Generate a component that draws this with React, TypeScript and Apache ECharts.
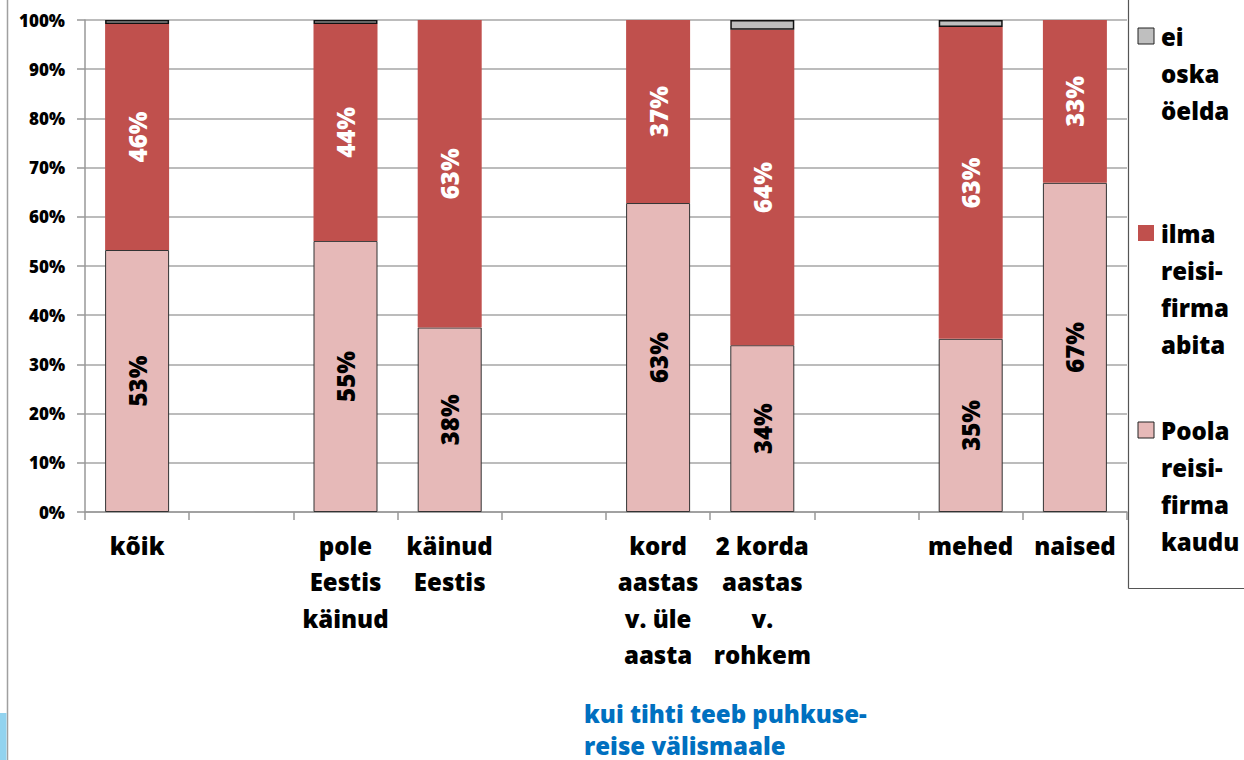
import React, { useEffect, useRef } from "react";
import * as echarts from "echarts";

const categories = [
  "kõik",
  " ",
  "pole\nEestis\nkäinud",
  "käinud\nEestis",
  "  ",
  "kord\naastas\nv. üle\naasta",
  "2 korda\naastas\nv.\nrohkem",
  "   ",
  "mehed",
  "naised",
];
const seriesNames = ["Poola reisi-firma kaudu", "ilma reisi-firma abita", "ei oska öelda"];
const legendLines = [
  ["Poola", "reisi-", "firma", "kaudu"],
  ["ilma", "reisi-", "firma", "abita"],
  ["ei", "oska", "öelda"],
];
const poolaValues = [53.25, null, 55.1, 37.5, null, 62.8, 33.9, null, 35.2, 66.9];
const ilmaValues = [45.95, null, 44.1, 62.5, null, 37.2, 64.1, null, 63.4, 33.1];
const eiValues = [0.8, null, 0.8, 0, null, 0, 2.0, null, 1.4, 0];
const yTicks = [0, 10, 20, 30, 40, 50, 60, 70, 80, 90, 100];
const axisTitle = "kui tihti teeb puhkuse-\nreise välismaale";

const colors = ["#E6B9B8", "#C0504D", "#BFBFBF"];
const FONT = "'Open Sans', 'Noto Sans', sans-serif";
const W = 800;

export default function App() {
  const ref = useRef<HTMLDivElement>(null);
  useEffect(() => {
    if (!ref.current) return;
    const chart = echarts.init(ref.current, undefined, { renderer: "svg" });
    const labelFmt = (p: any) => (p.value == null ? "" : Math.round(p.value) + "%");
    const legendTops = [422, 225, 28];
    const legendGraphics: any[] = [];
    [2, 1, 0].forEach((i) => {
      const top = legendTops[i];
      legendGraphics.push({
        type: "rect",
        shape: { x: 1138, y: top, width: 16, height: 16 },
        style: {
          fill: colors[i],
          stroke: i === 1 ? null : "#222",
          lineWidth: 1,
        },
      });
      legendGraphics.push({
        type: "text",
        x: 1161,
        y: top - 10,
        style: {
          text: legendLines[i].join("\n"),
          font: `${W} 24px ${FONT}`,
          lineHeight: 37,
          fill: "#000",
        },
      });
    });
    chart.setOption({
      animation: false,
      textStyle: { fontFamily: FONT },
      grid: { left: 85, right: 117, top: 20, bottom: 248, containLabel: false },
      xAxis: {
        type: "category",
        data: categories,
        axisLine: { lineStyle: { color: "#999", width: 1.5 } },
        axisTick: { show: true, length: 8, lineStyle: { color: "#999", width: 1.5 } },
        axisLabel: {
          interval: 0,
          color: "#000",
          fontWeight: W,
          fontSize: 24,
          fontFamily: FONT,
          lineHeight: 36.5,
          margin: 15,
        },
      },
      yAxis: {
        type: "value",
        min: 0,
        max: 100,
        interval: 10,
        axisLine: { show: true, lineStyle: { color: "#999", width: 1.5 } },
        axisTick: { show: true, length: 8, lineStyle: { color: "#999", width: 1.5 } },
        splitLine: { lineStyle: { color: "#a6a6a6", width: 1.5 } },
        axisLabel: {
          color: "#000",
          fontWeight: W,
          fontSize: 17,
          fontFamily: FONT,
          margin: 20,
          formatter: (v: number) => (yTicks.includes(v) ? v + "%" : ""),
        },
      },
      series: [
        {
          name: seriesNames[0],
          type: "bar",
          stack: "s",
          barWidth: 64,
          data: poolaValues,
          itemStyle: { color: colors[0], borderColor: "#333", borderWidth: 1 },
          label: {
            show: true,
            position: "inside",
            rotate: 90,
            color: "#000",
            fontWeight: W,
            fontSize: 24,
            fontFamily: FONT,
            formatter: labelFmt,
          },
        },
        {
          name: seriesNames[1],
          type: "bar",
          stack: "s",
          barWidth: 64,
          data: ilmaValues,
          itemStyle: { color: colors[1] },
          label: {
            show: true,
            position: "inside",
            rotate: 90,
            color: "#fff",
            fontWeight: W,
            fontSize: 24,
            fontFamily: FONT,
            formatter: labelFmt,
          },
        },
        {
          name: seriesNames[2],
          type: "bar",
          stack: "s",
          barWidth: 64,
          data: eiValues.map((v) => (v === 0 ? null : v)),
          itemStyle: { color: colors[2], borderColor: "#111", borderWidth: 1.5 },
          label: { show: false },
        },
      ],
      graphic: [
        {
          type: "line",
          shape: { x1: 7.5, y1: 0, x2: 7.5, y2: 760 },
          style: { stroke: "#a0a0a0", lineWidth: 1.5 },
        },
        {
          type: "rect",
          shape: { x: 0, y: 713, width: 6.5, height: 47 },
          style: { fill: "#92d3ef" },
        },
        {
          type: "line",
          shape: { x1: 1128.5, y1: 0, x2: 1128.5, y2: 588.5 },
          style: { stroke: "#555", lineWidth: 1.2 },
        },
        {
          type: "line",
          shape: { x1: 1128.5, y1: 588.5, x2: 1244, y2: 588.5 },
          style: { stroke: "#555", lineWidth: 1.2 },
        },
        {
          type: "text",
          x: 584,
          y: 697,
          style: {
            text: axisTitle,
            font: `${W} 24px ${FONT}`,
            lineHeight: 32,
            fill: "#0070C0",
          },
        },
        ...legendGraphics,
      ],
    });
    return () => chart.dispose();
  }, []);
  return (
    <div
      ref={ref}
      style={{ position: "fixed", left: 0, top: 0, width: 1244, height: 760, background: "#fff" }}
    />
  );
}
